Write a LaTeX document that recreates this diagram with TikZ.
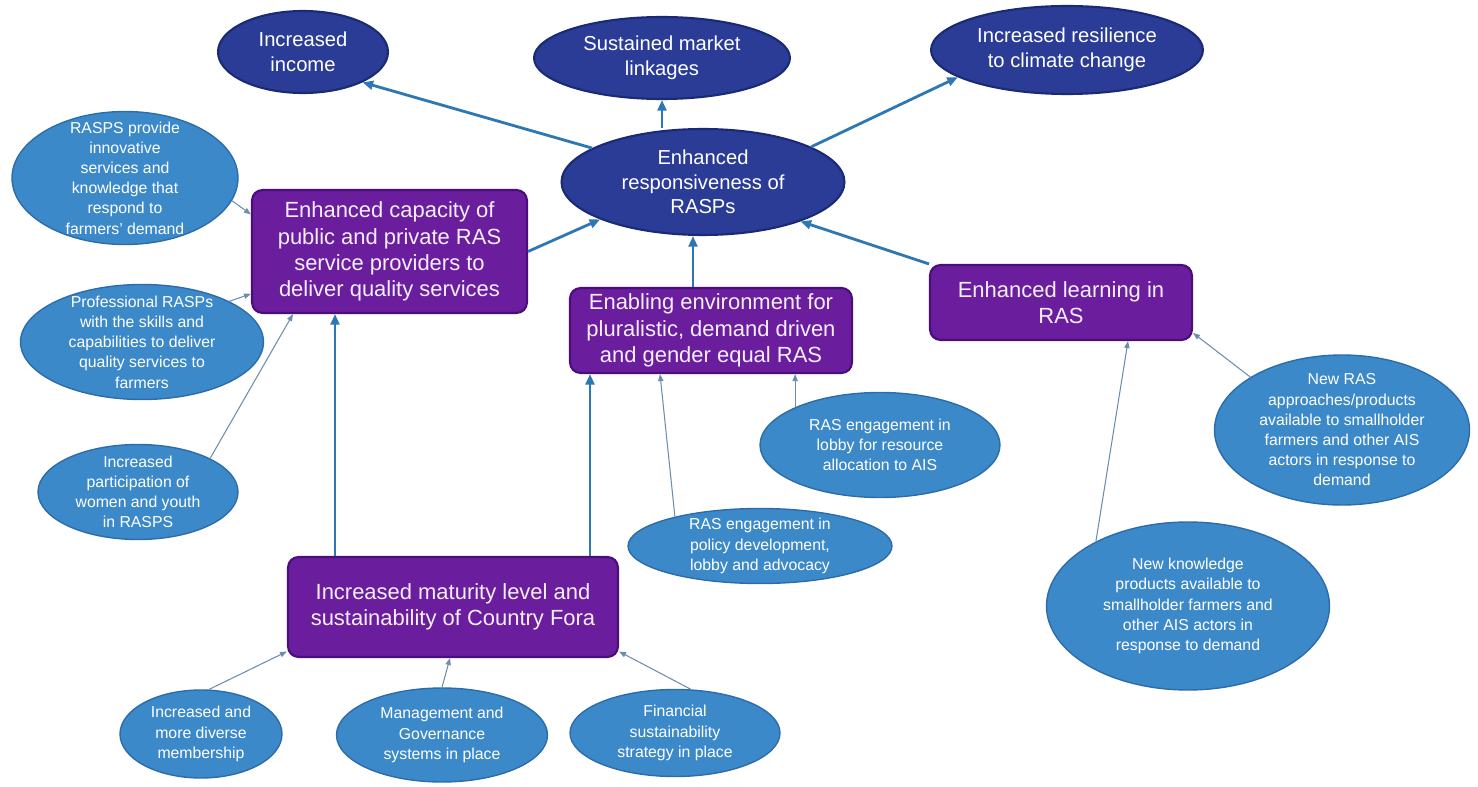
\documentclass[tikz,border=0pt]{standalone}
\usepackage{fontspec}
\setmainfont{Liberation Sans}
\usepackage{tikz}
\usetikzlibrary{shapes.geometric,arrows.meta}
\definecolor{navyfill}{HTML}{2A3C96}
\definecolor{navyedge}{HTML}{1B2A74}
\definecolor{purplefill}{HTML}{6A1E9E}
\definecolor{purpleedge}{HTML}{4B0D7C}
\definecolor{lavender}{HTML}{F6EEFB}
\definecolor{skyfill}{HTML}{3C89CA}
\definecolor{skyedge}{HTML}{2C6CAA}
\definecolor{linkblue}{HTML}{2E77B5}
\definecolor{linkgray}{HTML}{6D8DAE}

\begin{document}
\begin{tikzpicture}[x=0.02cm,y=-0.02cm,
        goalell/.style={ellipse,draw=navyedge,line width=1.2pt,fill=navyfill,text=white,
            align=center,inner sep=-15pt,font=\fontsize{11.5}{14}\selectfont},
        resultbox/.style={rectangle,rounded corners=6pt,draw=purpleedge,line width=1.2pt,
            fill=purplefill,text=lavender,align=center,inner sep=0pt,font=\fontsize{12.5}{15}\selectfont},
        outputell/.style={ellipse,draw=skyedge,line width=0.8pt,fill=skyfill,text=white,
            align=center,inner sep=-15pt,font=\fontsize{9}{11.5}\selectfont},
        mainlink/.style={draw=linkblue,line width=1.6pt,-{Triangle[length=6pt,width=5pt]}},
        sublink/.style={draw=linkgray,line width=0.6pt,-{Triangle[length=4pt,width=3pt]}}]
    \useasboundingbox (0,0) rectangle (1478,787);

    \node[goalell,minimum width=3.4cm,minimum height=1.64cm] (inc) at (303,52) {Increased\\income};
    \node[goalell,minimum width=5.12cm,minimum height=1.64cm] (mkt) at (662,58) {Sustained market\\linkages};
    \node[goalell,minimum width=5.44cm,minimum height=1.76cm] (res) at (1067,50) {Increased resilience\\to climate change};
    \node[goalell,minimum width=5.66cm,minimum height=2.12cm] (resp) at (703,182) {Enhanced\\responsiveness of\\RASPs};

    \node[resultbox,minimum width=5.5cm,minimum height=2.46cm] (cap) at (389.5,251.5)
        {Enhanced capacity of\\public and private RAS\\service providers to\\deliver quality services};
    \node[resultbox,minimum width=5.64cm,minimum height=1.7cm] (env) at (711,330.5)
        {Enabling environment for\\pluralistic, demand driven\\and gender equal RAS};
    \node[resultbox,minimum width=5.24cm,minimum height=1.5cm] (lrn) at (1061,302.5)
        {Enhanced learning in\\RAS};
    \node[resultbox,minimum width=6.6cm,minimum height=2cm] (mat) at (453,607)
        {Increased maturity level and\\sustainability of Country Fora};

    \node[outputell,minimum width=4.52cm,minimum height=2.66cm] (rasps) at (125,178)
        {RASPS provide\\innovative\\services and\\knowledge that\\respond to\\farmers' demand};
    \node[outputell,minimum width=4.86cm,minimum height=2.3cm] (prof) at (142,342)
        {Professional RASPs\\with the skills and\\capabilities to deliver\\quality services to\\farmers};
    \node[outputell,minimum width=4cm,minimum height=1.9cm] (part) at (138,492)
        {Increased\\participation of\\women and youth\\in RASPS};
    \node[outputell,minimum width=4.8cm,minimum height=2.1cm] (lobby) at (880,445)
        {RAS engagement in\\lobby for resource\\allocation to AIS};
    \node[outputell,minimum width=5.28cm,minimum height=1.5cm] (policy) at (760,546)
        {RAS engagement in\\policy development,\\lobby and advocacy};
    \node[outputell,minimum width=5.1cm,minimum height=3cm] (newras) at (1342,430)
        {New RAS\\approaches/products\\available to smallholder\\farmers and other AIS\\actors in response to\\demand};
    \node[outputell,minimum width=5.66cm,minimum height=3.36cm] (newkn) at (1188,606)
        {New knowledge\\products available to\\smallholder farmers and\\other AIS actors in\\response to demand};
    \node[outputell,minimum width=3.24cm,minimum height=1.76cm] (memb) at (201,734)
        {Increased and\\more diverse\\membership};
    \node[outputell,minimum width=4.22cm,minimum height=1.88cm] (mgmt) at (442,735)
        {Management and\\Governance\\systems in place};
    \node[outputell,minimum width=4.2cm,minimum height=1.74cm] (fin) at (675,733)
        {Financial\\sustainability\\strategy in place};

    \draw[mainlink] (resp.163) -- (inc.-27);
    \draw[mainlink] (resp.north -| mkt.south) -- (mkt.south);
    \draw[mainlink] (resp.18) -- (res.194);
    \draw[mainlink] (cap.east) -- (resp.200);
    \draw[mainlink] (env.north -| 693,0) -- (resp.south -| 693,0);
    \draw[mainlink] (lrn.north west) -- (resp.-22);
    \draw[mainlink] (mat.north -| 335,0) -- (cap.south -| 335,0);
    \draw[mainlink] (mat.north -| 590,0) -- (env.south -| 590,0);

    \draw[sublink] (rasps.-12) -- (cap.165);
    \draw[sublink] (prof.25) -- (cap.197);
    \draw[sublink] (part.25) -- (cap.south -| 293,0);
    \draw[sublink] (lobby.156) -- (env.south -| lobby.156);
    \draw[sublink] (policy.161) -- (env.south -| 660,0);
    \draw[sublink] (newkn.145) -- (lrn.south -| 1128,0);
    \draw[sublink] (newras.150) -- (lrn.-13);
    \draw[sublink] (memb.80) -- (mat.195);
    \draw[sublink] (mgmt.north) -- (mat.south -| 450,0);
    \draw[sublink] (fin.70) -- (mat.-15);
\end{tikzpicture}
\end{document}
